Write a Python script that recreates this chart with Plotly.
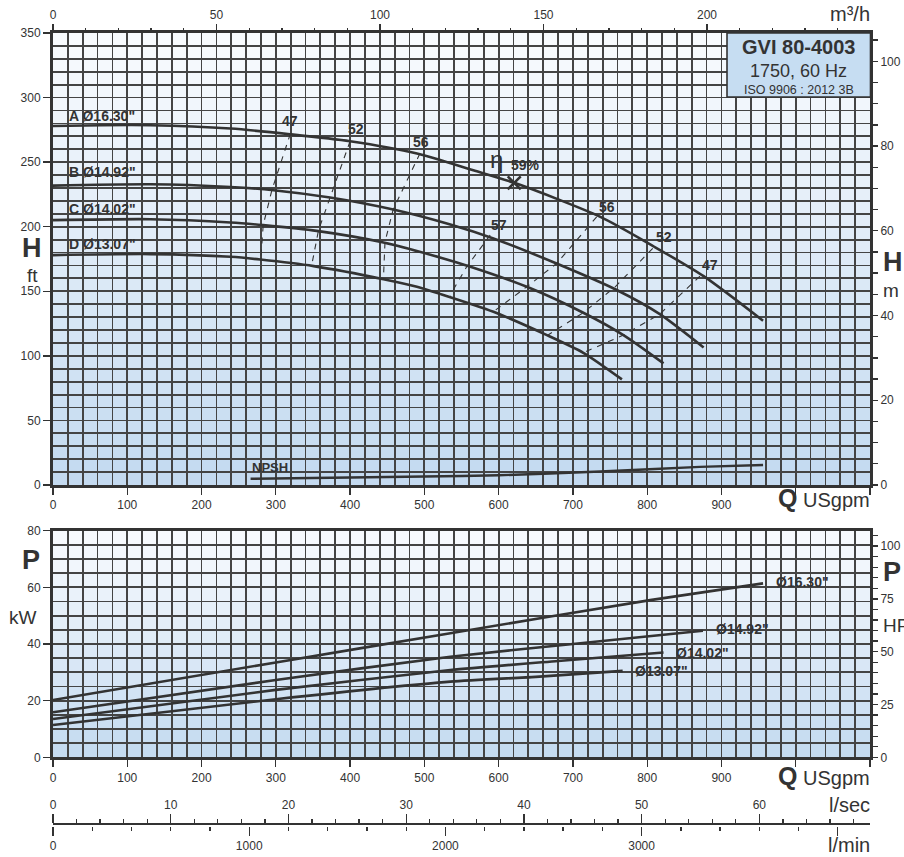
import plotly.graph_objects as go

# ---------------- data ----------------
# Head curves, Q in USgpm, H in ft
Q_A = [0, 65, 131, 239, 319, 400, 490, 566, 624, 737, 808, 876, 956]
H_A = [278, 278.6, 278.6, 276, 271.6, 266.2, 256.7, 243.7, 233.4, 207.6, 185, 161.7, 127.2]
Q_B = [0, 131, 239, 297, 373, 458, 535, 593, 678, 759, 817, 876]
H_B = [231.8, 232.9, 230.8, 228.3, 222.6, 213.3, 201.7, 190.9, 171.5, 151, 132.3, 106.5]
Q_C = [0, 131, 239, 283, 355, 445, 521, 562, 638, 714, 768, 822]
H_C = [205.1, 205.8, 203.3, 201.2, 196.8, 187.8, 176.2, 169, 153.5, 133.4, 116.1, 94.2]
Q_D = [0, 131, 239, 279, 351, 445, 490, 521, 593, 665, 714, 766]
H_D = [178, 178.8, 176.7, 174.6, 169.5, 159.4, 153.5, 148, 134.1, 116.1, 102.4, 81.8]
HEAD_LABELS = ['A Ø16.30"', 'B Ø14.92"', 'C Ø14.02"', 'D Ø13.07"']
HEAD_LABEL_Q = [20, 20, 20, 20]
HEAD_LABEL_H = [285.5, 242, 214, 187]

# NPSH (ft)
Q_NPSH = [266, 400, 500, 600, 737, 871, 956]
H_NPSH = [4.8, 5.8, 6.6, 7.5, 10.5, 14.0, 15.5]

# Efficiency iso-lines (dashed), %
EFF_NAMES = ["47", "52", "56", "57", "56", "52", "47"]
EFF_Q = [[319.6, 294.7, 283, 280], [400, 373, 357.5, 348.6], [494, 458, 447, 445],
         [588.6, 557, 534.7], [732, 678, 638, 591], [807.5, 757, 714, 665],
         [871, 817, 768, 714]]
EFF_H = [[272.1, 228.3, 201.2, 176.7], [266.2, 222.6, 197.3, 171], [256.7, 213.3, 188.3, 161.2],
         [193.5, 169, 147], [207.6, 171.5, 153.5, 133.4], [183.2, 153.5, 133.4, 115.6],
         [161.7, 132.3, 116.1, 102.4]]
EFF_LABEL_Q = [319, 408, 495, 600, 746, 822, 884]
EFF_LABEL_H = [281.7, 275.5, 265.4, 201, 215.4, 192, 170]
BEP_Q, BEP_H, BEP_TEXT = [621], [234], "59%"

# Power curves, P in kW
Q_PA = [0, 300, 535, 804, 956]
P_A = [20.2, 33.5, 43.8, 55.5, 61.4]
Q_PB = [0, 300, 535, 700, 875]
P_B = [15.9, 27.3, 35.5, 40, 44.7]
Q_PC = [0, 300, 535, 680, 822]
P_C = [13.5, 23.8, 30.8, 34.0, 37]
Q_PD = [0, 300, 535, 650, 767]
P_D = [11.4, 20.5, 26.7, 28.4, 30.5]
POWER_LABELS = ['Ø16.30"', 'Ø14.92"', 'Ø14.02"', 'Ø13.07"']
POWER_LABEL_Q = [972, 891, 838, 782]
POWER_LABEL_P = [62, 45.3, 36.9, 30.5]

# Axis ticks
Q_TICKS = [0, 100, 200, 300, 400, 500, 600, 700, 800, 900, 1000, 1100]
Q_TICKTEXT = ["0", "100", "200", "300", "400", "500", "600", "700", "800", "900", "", ""]
M3H_TICKS = [0, 50, 100, 150, 200]
FT_TICKS = [0, 50, 100, 150, 200, 250, 300, 350]
M_TICKS = [0, 20, 40, 60, 80, 100]
KW_TICKS = [0, 20, 40, 60, 80]
HP_TICKS = [0, 25, 50, 75, 100]
LS_TICKS = [0, 10, 20, 30, 40, 50, 60]
LMIN_TICKS = [0, 1000, 2000, 3000, 4000]
LMIN_TICKTEXT = ["0", "1000", "2000", "3000", ""]

# unit conversions
GPM_PER_M3H = 4.40287
GPM_PER_LS = 15.8503
GPM_PER_LMIN = 0.264172
M_PER_FT = 0.3048
KW_PER_HP = 0.7457

Q_MAX, FT_MAX, KW_MAX = 1100, 350, 80

# ---------------- layout geometry ----------------
W, HGT = 904, 857
ML, MR, MT, MB = 53, 34, 33, 22
PW, PH = W - ML - MR, HGT - MT - MB


def fx(px):
    return (px - ML) / PW


def fy(py):
    return (HGT - MB - py) / PH


INK = "#333333"
GRID = "#444444"
GW = 1.8
FONT = "Liberation Sans, Arial, sans-serif"

fig = go.Figure()

line_style = dict(color=INK, width=2.6, shape="spline", smoothing=0.7)
for q, h in [(Q_A, H_A), (Q_B, H_B), (Q_C, H_C), (Q_D, H_D)]:
    fig.add_trace(go.Scatter(x=q, y=h, mode="lines", line=line_style,
                             xaxis="x", yaxis="y", hoverinfo="skip", showlegend=False))
fig.add_trace(go.Scatter(x=Q_NPSH, y=H_NPSH, mode="lines",
                         line=dict(color=INK, width=2.4, shape="spline", smoothing=0.6),
                         xaxis="x", yaxis="y", hoverinfo="skip", showlegend=False))
for q, h in zip(EFF_Q, EFF_H):
    fig.add_trace(go.Scatter(x=q, y=h, mode="lines",
                             line=dict(color=INK, width=1.1, dash="6px,6px"),
                             xaxis="x", yaxis="y", hoverinfo="skip", showlegend=False))
fig.add_trace(go.Scatter(x=BEP_Q, y=BEP_H, mode="markers",
                         marker=dict(symbol="x-thin", size=13, line=dict(color=INK, width=2.6)),
                         xaxis="x", yaxis="y", hoverinfo="skip", showlegend=False))

pline = dict(color=INK, width=2.6, shape="spline", smoothing=0.6)
for q, p in [(Q_PA, P_A), (Q_PB, P_B), (Q_PC, P_C), (Q_PD, P_D)]:
    fig.add_trace(go.Scatter(x=q, y=p, mode="lines", line=pline,
                             xaxis="x3", yaxis="y3", hoverinfo="skip", showlegend=False))

# dummy traces so secondary scales exist
for xa, ya in [("x2", "y"), ("x", "y2"), ("x3", "y4"), ("x4", "y5"), ("x5", "y5")]:
    fig.add_trace(go.Scatter(x=[None], y=[None], xaxis=xa, yaxis=ya, mode="lines",
                             hoverinfo="skip", showlegend=False))

tickfont = dict(family=FONT, size=12, color=INK)


def qaxis(anchor):
    return dict(domain=[0, 1], anchor=anchor, range=[0, Q_MAX], tickmode="array",
                tickvals=Q_TICKS, ticktext=Q_TICKTEXT, ticks="outside", ticklen=7,
                tickwidth=1.3, tickcolor=INK, tickfont=tickfont, automargin=False,
                showgrid=True, gridcolor=GRID, gridwidth=GW, zeroline=False,
                minor=dict(tickmode="linear", tick0=0, dtick=20, showgrid=True,
                           gridcolor=GRID, gridwidth=GW, ticks=""),
                showline=True, linewidth=3, linecolor=INK, mirror=True, fixedrange=True)


def minor_ticks(dtick, length):
    return dict(tickmode="linear", tick0=0, dtick=dtick, ticks="outside",
                ticklen=length, tickwidth=1.3, tickcolor=INK, showgrid=False)


fig.update_layout(
    width=W, height=HGT, margin=dict(l=ML, r=MR, t=MT, b=MB, pad=0, autoexpand=False),
    paper_bgcolor="white", plot_bgcolor="rgba(0,0,0,0)",
    font=dict(family=FONT, color=INK), showlegend=False, hovermode=False,
    xaxis=qaxis("y"),
    xaxis3=qaxis("y3"),
    xaxis2=dict(overlaying="x", side="top", anchor="y", range=[0, Q_MAX / GPM_PER_M3H],
                tickmode="array", tickvals=M3H_TICKS, ticks="outside", ticklen=8,
                tickwidth=1.3, tickcolor=INK, tickfont=tickfont, showgrid=False,
                zeroline=False, showline=False, automargin=False,
                minor=minor_ticks(10, 4)),
    yaxis=dict(domain=[fy(485), 1], anchor="x", range=[0, FT_MAX], tickmode="array",
               tickvals=FT_TICKS, ticks="outside", ticklen=7, tickwidth=1.3, tickcolor=INK,
               tickfont=tickfont, showgrid=True, gridcolor=GRID, gridwidth=GW,
               zeroline=False, automargin=False,
               minor=dict(tickmode="linear", tick0=0, dtick=10, showgrid=True,
                          gridcolor=GRID, gridwidth=GW, ticks=""),
               showline=True, linewidth=3, linecolor=INK, mirror=True),
    yaxis2=dict(overlaying="y", side="right", anchor="x", range=[0, FT_MAX * M_PER_FT],
                tickmode="array", tickvals=M_TICKS, ticks="outside", ticklen=7,
                tickwidth=1.3, tickcolor=INK, tickfont=tickfont, showgrid=False,
                zeroline=False, showline=False, automargin=False,
                minor=minor_ticks(5, 7)),
    yaxis3=dict(domain=[fy(757.3), fy(530.7)], anchor="x3", range=[0, KW_MAX],
                tickmode="array", tickvals=KW_TICKS, ticks="outside", ticklen=7,
                tickwidth=1.3, tickcolor=INK, tickfont=tickfont, showgrid=True,
                gridcolor=GRID, gridwidth=GW, zeroline=False, automargin=False,
                minor=dict(tickmode="linear", tick0=0, dtick=5, showgrid=True,
                           gridcolor=GRID, gridwidth=GW, ticks=""),
                showline=True, linewidth=3, linecolor=INK, mirror=True),
    yaxis4=dict(overlaying="y3", side="right", anchor="x3", range=[0, KW_MAX / KW_PER_HP],
                tickmode="array", tickvals=HP_TICKS, ticks="outside", ticklen=7,
                tickwidth=1.3, tickcolor=INK, tickfont=tickfont, showgrid=False,
                zeroline=False, showline=False, automargin=False,
                minor=minor_ticks(5, 7)),
    yaxis5=dict(domain=[fy(825.5), fy(824.5)], anchor="x4", visible=False, range=[0, 1],
                automargin=False),
    xaxis4=dict(anchor="y5", side="top", range=[0, Q_MAX / GPM_PER_LS], tickmode="array",
                tickvals=LS_TICKS, ticks="outside", ticklen=9, tickwidth=1.3,
                tickcolor=INK, tickfont=tickfont, showgrid=False, zeroline=False,
                showline=True, linewidth=1.3, linecolor=INK, automargin=False,
                minor=minor_ticks(2, 4)),
    xaxis5=dict(anchor="y5", overlaying="x4", side="bottom",
                range=[0, Q_MAX / GPM_PER_LMIN], tickmode="array", tickvals=LMIN_TICKS,
                ticktext=LMIN_TICKTEXT, ticks="outside", ticklen=9, tickwidth=1.3,
                tickcolor=INK, tickfont=tickfont, showgrid=False, zeroline=False,
                showline=False, automargin=False,
                minor=minor_ticks(200, 4)),
)

# ---------------- background gradient (bands aligned to grid rows) ----------------
TOP_C = (249, 251, 254)
BOT_C = (195, 218, 240)


def mix(t):
    return "rgb(%d,%d,%d)" % tuple(round(b + (a - b) * t) for a, b in zip(TOP_C, BOT_C))


shapes = []
n_top = int(FT_MAX / 10)
for k in range(n_top):
    shapes.append(dict(type="rect", xref="x", yref="y", x0=0, x1=Q_MAX,
                       y0=k * 10, y1=(k + 1) * 10, layer="below",
                       fillcolor=mix((k + 0.5) / n_top), line=dict(width=0)))
n_bot = int(KW_MAX / 5)
for k in range(n_bot):
    shapes.append(dict(type="rect", xref="x3", yref="y3", x0=0, x1=Q_MAX,
                       y0=k * 5, y1=(k + 1) * 5, layer="below",
                       fillcolor=mix((k + 0.5) / n_bot), line=dict(width=0)))

# title box
shapes.append(dict(type="rect", xref="paper", yref="paper", x0=fx(727), x1=fx(870.5),
                   y0=fy(97), y1=fy(33), fillcolor="#c6ddf2",
                   line=dict(color=INK, width=1.6), layer="above"))
fig.update_layout(shapes=shapes)

# ---------------- annotations ----------------
ann = []


def txt(text, x, y, size, xref="paper", yref="paper", xanchor="center", yanchor="middle",
        bold=False):
    ann.append(dict(text=("<b>%s</b>" % text) if bold else text, x=x, y=y, xref=xref,
                    yref=yref, xanchor=xanchor, yanchor=yanchor, showarrow=False,
                    borderpad=0, font=dict(family=FONT, size=size, color=INK)))


for t, q, h in zip(HEAD_LABELS, HEAD_LABEL_Q, HEAD_LABEL_H):
    txt(t, q, h, 14, "x", "y", xanchor="left", bold=True)
for t, q, h in zip(EFF_NAMES, EFF_LABEL_Q, EFF_LABEL_H):
    txt(t, q, h, 14, "x", "y", bold=True)
txt("η", 597, 252, 24, "x", "y")
txt(BEP_TEXT, 636, 247.6, 14, "x", "y", bold=True)
txt("NPSH", 267, 13.3, 13, "x", "y", xanchor="left", bold=True)
for t, q, p in zip(POWER_LABELS, POWER_LABEL_Q, POWER_LABEL_P):
    txt(t, q, p, 14, "x3", "y3", xanchor="left", bold=True)

# title box text
txt("GVI 80-4003", fx(798.5), fy(47), 20, bold=True)
txt("1750, 60 Hz", fx(798.5), fy(71), 18)
txt("ISO 9906 : 2012 3B", fx(798.5), fy(90), 12.5)

# axis titles
txt("H", fx(31.5), fy(248), 27, bold=True)
txt("ft", fx(32), fy(275), 19)
txt("H", fx(882), fy(262), 27, xanchor="left", bold=True)
txt("m", fx(882), fy(290), 19, xanchor="left")
txt("P", fx(30.5), fy(560), 27, bold=True)
txt("kW", fx(23), fy(617), 19)
txt("P", fx(882), fy(572), 27, xanchor="left", bold=True)
txt("HP", fx(882), fy(625), 19, xanchor="left")
txt("<span style='font-size:25px'><b>Q</b></span> USgpm", fx(871), fy(498), 20,
    xanchor="right")
txt("<span style='font-size:25px'><b>Q</b></span> USgpm", fx(871), fy(776), 20,
    xanchor="right")
txt("m³/h", fx(871), fy(14), 20, xanchor="right")
txt("l/sec", fx(871), fy(805), 20, xanchor="right")
txt("l/min", fx(871), fy(845), 20, xanchor="right")

fig.update_layout(annotations=ann)

fig.write_html("out.html", config={"displayModeBar": False, "staticPlot": True},
               post_script="document.body.style.margin='0px';")
